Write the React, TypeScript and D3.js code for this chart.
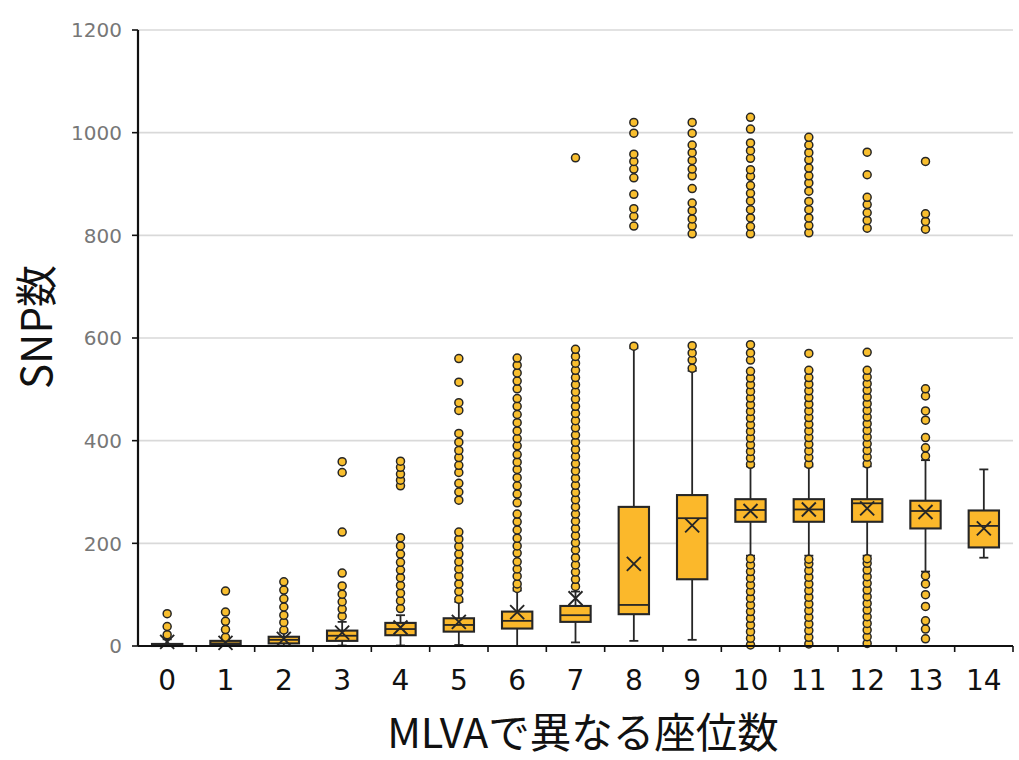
import React from 'react';
import * as d3 from 'd3';

const categories = ['0', '1', '2', '3', '4', '5', '6', '7', '8', '9', '10', '11', '12', '13', '14'];
const q1 = [0, 2, 5, 10, 21, 28, 34, 47, 62, 130, 242, 242, 242, 229, 192];
const medians = [1, 5, 12, 20, 33, 41, 49, 60, 80, 249, 265, 266, 278, 263, 234];
const q3 = [4, 10, 18, 30, 45, 54, 67, 78, 271, 294, 286, 286, 286, 283, 264];
const means = [8, 6, 14, 26, 36, 47, 66, 93, 160, 235, 263, 266, 268, 261, 229];
const whiskerLow = [0, 0, 0, 1, 1, 2, 0, 7, 10, 12, 176, 176, 176, 145, 172];
const whiskerHigh = [13, 14, 27, 47, 60, 86, 108, 106, 580, 536, 350, 350, 350, 362, 344];
const outliers: number[][] = [
  [22, 38, 63],
  [17, 32, 48, 66, 107],
  [31, 46, 60, 76, 92, 109, 125],
  [58, 72, 86, 101, 117, 142, 222, 338, 359],
  [73, 88, 103, 118, 133, 148, 163, 179, 195, 211, 312, 323, 335, 348, 360],
  [91, 106, 121, 136, 150, 164, 179, 194, 208, 222, 284, 300, 317, 338, 352, 367, 381, 397, 414, 459, 474, 514, 560],
  [112, 121, 136, 150, 164, 181, 195, 210, 226, 242, 257, 279, 296, 312, 328, 344, 358, 373, 390, 404, 419, 435, 451, 467, 482, 501, 516, 532, 547, 561],
  [116, 130, 144, 158, 172, 187, 201, 215, 229, 243, 257, 271, 285, 299, 313, 327, 341, 355, 369, 383, 397, 411, 425, 439, 453, 467, 481, 495, 509, 523, 537, 551, 564, 578, 951],
  [584, 818, 837, 852, 880, 912, 929, 944, 958, 999, 1020],
  [541, 557, 571, 585, 803, 818, 832, 848, 863, 891, 916, 929, 946, 961, 976, 999, 1020],
  [2, 15, 28, 41, 54, 67, 80, 93, 106, 119, 132, 145, 158, 170,
    354, 366, 379, 392, 405, 418, 431, 444, 457, 470, 483, 496, 509, 522, 535, 557, 571, 587,
    803, 817, 834, 850, 867, 882, 897, 915, 928, 950, 965, 980, 1007, 1030],
  [4, 17, 30, 43, 56, 69, 82, 95, 108, 121, 134, 147, 160, 169,
    354, 367, 380, 393, 406, 419, 432, 445, 458, 471, 484, 497, 510, 523, 537, 570,
    805, 819, 834, 850, 866, 886, 902, 916, 931, 947, 961, 976, 991],
  [5, 18, 31, 44, 57, 70, 83, 96, 109, 122, 135, 148, 161, 170,
    355, 368, 381, 394, 407, 420, 433, 446, 459, 472, 485, 498, 511, 524, 537, 572,
    814, 829, 844, 860, 874, 918, 962],
  [14, 33, 49, 77, 100, 121, 137, 370, 386, 406, 440, 458, 487, 501, 812, 827, 842, 944],
  [],
];
const yTicks = [0, 200, 400, 600, 800, 1000, 1200];
const xTitle = 'MLVAで異なる座位数';
const yTitle = 'SNP数';

const BOX_FILL = '#FBB82B';
const DOT_FILL = '#F8BE2E';
const STROKE = '#262626';

export default function App() {
  const width = 1019;
  const height = 760;
  const x = d3.scaleBand<string>().domain(categories).range([138, 1013]).padding(0);
  const y = d3.scaleLinear().domain([0, 1200]).range([646, 30]);
  const bw = x.bandwidth() * 0.52;
  const capW = 9;
  const m = 7;

  return (
    <>
      <style>{'body{margin:0}'}</style>
      <svg width={width} height={height} style={{ display: 'block', background: '#fff' }}>
        {yTicks.filter((t) => t > 0).map((t) => (
          <line key={'g' + t} x1={138} x2={1013} y1={y(t)} y2={y(t)} stroke="#d9d9d9" strokeWidth={1.6} />
        ))}
        <line x1={138} x2={138} y1={y(1200)} y2={y(0)} stroke="#111" strokeWidth={2.2} />
        {yTicks.map((t) => (
          <g key={'yt' + t}>
            <line x1={132} x2={138} y1={y(t)} y2={y(t)} stroke="#111" strokeWidth={1.6} />
            <text x={122} y={y(t)} dy="0.36em" textAnchor="end" fontFamily="DejaVu Sans" fontSize={20} fill="#777">
              {t}
            </text>
          </g>
        ))}
        {categories.map((c, i) => {
          const cx = (x(c) as number) + x.bandwidth() / 2;
          const top = y(q3[i]);
          const bot = y(q1[i]);
          const my = y(means[i]);
          return (
            <g key={'b' + c}>
              <line x1={cx} x2={cx} y1={y(whiskerHigh[i])} y2={top} stroke={STROKE} strokeWidth={1.8} />
              <line x1={cx} x2={cx} y1={bot} y2={y(whiskerLow[i])} stroke={STROKE} strokeWidth={1.8} />
              <line x1={cx - capW / 2} x2={cx + capW / 2} y1={y(whiskerHigh[i])} y2={y(whiskerHigh[i])} stroke={STROKE} strokeWidth={1.8} />
              <line x1={cx - capW / 2} x2={cx + capW / 2} y1={y(whiskerLow[i])} y2={y(whiskerLow[i])} stroke={STROKE} strokeWidth={1.8} />
              <rect x={cx - bw / 2} y={top} width={bw} height={Math.max(bot - top, 0.5)} fill={BOX_FILL} stroke={STROKE} strokeWidth={2.1} />
              <line x1={cx - bw / 2} x2={cx + bw / 2} y1={y(medians[i])} y2={y(medians[i])} stroke={STROKE} strokeWidth={1.8} />
              {outliers[i].map((v, j) => (
                <circle key={j} cx={cx} cy={y(v)} r={4} fill={DOT_FILL} stroke={STROKE} strokeWidth={1.5} />
              ))}
              <path d={`M${cx - m},${my - m}L${cx + m},${my + m}M${cx - m},${my + m}L${cx + m},${my - m}`} stroke={STROKE} strokeWidth={1.9} fill="none" />
            </g>
          );
        })}
        <line x1={138} x2={1013} y1={y(0)} y2={y(0)} stroke="#111" strokeWidth={2.2} />
        {categories.map((c) => (
          <line key={'xt' + c} x1={(x(c) as number) + x.bandwidth()} x2={(x(c) as number) + x.bandwidth()} y1={y(0)} y2={y(0) + 6} stroke="#111" strokeWidth={1.6} />
        ))}
        {categories.map((c) => (
          <text key={'xl' + c} x={(x(c) as number) + x.bandwidth() / 2} y={690} textAnchor="middle" fontFamily="DejaVu Sans" fontSize={28} fill="#111">
            {c}
          </text>
        ))}
        <text x={583} y={748} textAnchor="middle" fontFamily="'Noto Sans CJK JP'" fontSize={41.5} fill="#111">
          {xTitle}
        </text>
        <text transform="translate(52,327) rotate(-90)" textAnchor="middle" fontFamily="'Noto Sans CJK JP'" fontSize={42} fill="#111">
          {yTitle}
        </text>
      </svg>
    </>
  );
}
